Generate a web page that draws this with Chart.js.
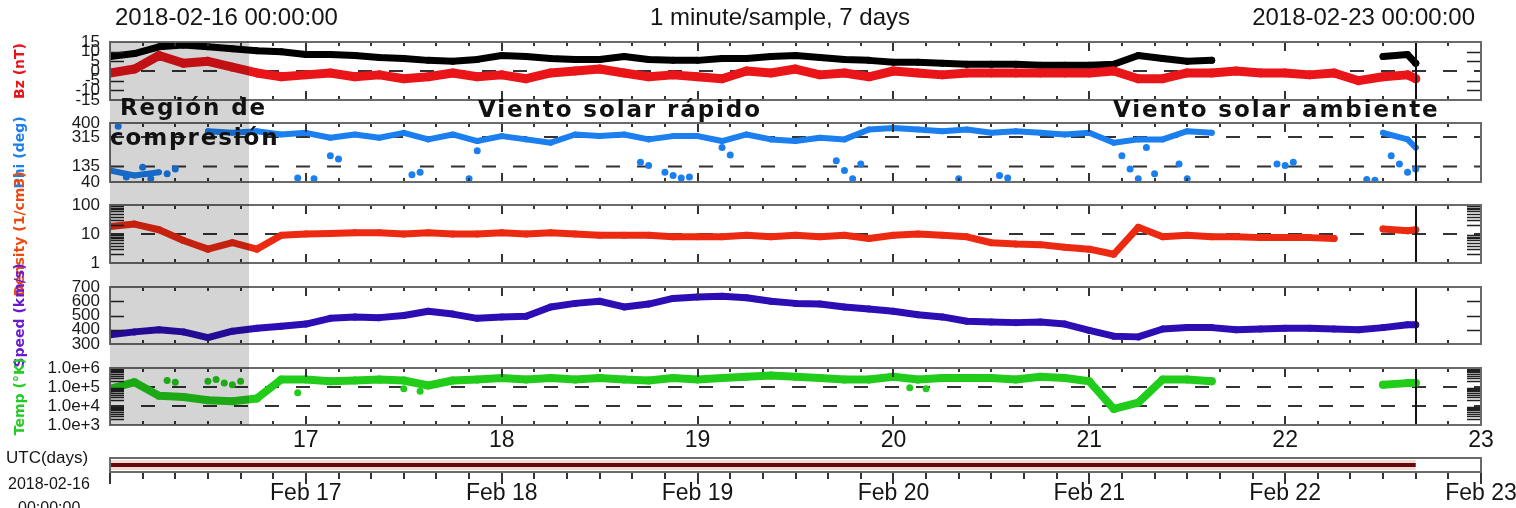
<!DOCTYPE html>
<html>
<head>
<meta charset="utf-8">
<script src="https://cdn.jsdelivr.net/npm/chart.js@4.4.1/dist/chart.umd.min.js"></script>
<style>
  body { margin: 0; background: #fff; }
  #stage { position: relative; width: 1516px; height: 508px; overflow: hidden; font-family: "Liberation Sans", Arial, sans-serif; }
  #stage canvas { position: absolute; left: 0; top: 0; }
  .t { position: absolute; white-space: nowrap; line-height: 1; color: #151515; z-index: 4; }
  .note { position: absolute; white-space: nowrap; line-height: 1; z-index: 5; color: #111;
          font-family: "DejaVu Sans", sans-serif; font-weight: bold; font-size: 23px; letter-spacing: 1.9px; }
</style>
</head>
<body>
<div id="stage">
  <div class="t" style="left:115px;top:5px;font-size:24px">2018-02-16 00:00:00</div>
  <div class="t" style="left:780px;top:5px;font-size:24px;transform:translateX(-50%)">1 minute/sample, 7 days</div>
  <div class="t" style="right:41px;top:5px;font-size:24px">2018-02-23 00:00:00</div>
  <div class="t" style="left:6px;top:449px;font-size:17px">UTC(days)</div>
  <div class="t" style="left:8px;top:476px;font-size:16px">2018-02-16</div>
  <div class="t" style="left:18px;top:500px;font-size:16px">00:00:00</div>
  <div class="note" style="left:120px;top:96px">Región de</div>
  <div class="note" style="left:110px;top:126px">compresión</div>
  <div class="note" style="left:478px;top:98px">Viento solar rápido</div>
  <div class="note" style="left:1113px;top:98px">Viento solar ambiente</div>
</div>
<script>
// hours after 2018-02-16 00:00 UTC
const hours = [0, 3, 6, 9, 12, 15, 18, 21, 24, 27, 30, 33, 36, 39, 42, 45, 48, 51, 54, 57,
  60, 63, 66, 69, 72, 75, 78, 81, 84, 87, 90, 93, 96, 99, 102, 105, 108, 111, 114, 117,
  120, 123, 126, 129, 132, 135, 138, 141, 144, 147, 150, 153, 156, 159, 160];

// magnetic field (nT)
const btValues = [7.5, 9, 12.5, 13.5, 12.5, 11.5, 10.5, 10, 8.5, 8.5, 8, 7, 6.5, 5.5, 5, 6, 8, 7.5, 6.5, 6,
  6, 7.5, 6, 5.5, 5.5, 6.5, 6.5, 7.5, 8, 7, 6, 5.5, 4.5, 4.5, 4, 3.5, 3.5, 3.5, 3, 3,
  3, 3.5, 8, 6.5, 5, 5.5, null, null, null, null, null, null, 7.5, 8.5, 4];
const bzValues = [-1, 1, 8, 4, 5, 2, -1, -3, -2, -1, -3, -2, -4, -3, -1, -3, -2, -4, -1, 0,
  1, -1, -3, -2, -3, -4, 0, -1, 1, -2, -1, -3, 0, -1, -2, -1, -1, -1, -1, -1,
  -1, 0, -4, -4, -1, -1, 0, -1, -1, -2, -1, -5, -3, -2, -4];
// field angle (deg): main band plus scattered low excursions
const phiValues = [110, 80, 100, null, 350, 340, 350, 330, 340, 310, 330, 310, 340, 300, 330, 290, 320, 300, 280, 330,
  320, 330, 300, 320, 320, 290, 330, 300, 290, 310, 300, 360, 370, 360, 350, 360, 340, 350, 340, 330,
  340, 280, 300, 300, 350, 340, null, null, null, null, null, null, 340, 300, 250];
const phiDipHours = [1, 2, 4, 5, 7, 8, 23, 25, 27, 28, 37, 38, 44, 45, 65, 66, 68, 69, 70, 71, 75, 76,
  89, 90, 91, 92, 104, 109, 110, 124, 125, 126, 127, 128, 131, 132, 143, 144, 145, 154, 155, 157, 158, 159, 160];
const phiDipValues = [380, 70, 130, 60, 90, 120, 65, 60, 200, 180, 85, 100, 60, 230, 160, 140, 100, 80, 65, 70, 250, 205,
  170, 110, 60, 150, 60, 80, 65, 200, 120, 60, 250, 90, 150, 60, 150, 140, 160, 55, 50, 200, 150, 100, 120];
// proton density (1/cm3)
const densityValues = [18, 22, 14, 6, 3, 5, 3, 9, 10, 10.5, 11, 11, 10, 11, 10, 10, 11, 10, 11, 10,
  9, 9, 9, 8, 8, 8, 9, 8, 9, 8, 9, 7, 9, 10, 9, 8, 5, 4.5, 4.3, 3.5,
  3, 2, 17, 8, 9, 8, 8, 7.5, 7.5, 7.5, 7, null, 15, 13, 14];
// bulk speed (km/s)
const speedValues = [365, 385, 400, 385, 345, 390, 410, 425, 440, 480, 490, 485, 500, 530, 510, 480, 490, 495, 560, 585,
  600, 560, 580, 620, 630, 635, 625, 600, 585, 580, 560, 545, 530, 505, 490, 460, 455, 450, 455, 440,
  395, 355, 350, 405, 415, 415, 400, 405, 410, 410, 405, 400, 415, 435, 435];
// ion temperature (K)
const tempValues = [8e4, 1.8e5, 3.5e4, 3e4, 2e4, 1.8e4, 2.5e4, 2.5e5, 2.5e5, 2e5, 2.2e5, 2.5e5, 2.2e5, 1.2e5, 2.2e5, 2.5e5, 3e5, 2.5e5, 3e5, 2.5e5,
  3e5, 2.5e5, 2.2e5, 3e5, 2.5e5, 3e5, 3.5e5, 4e5, 3.5e5, 3e5, 2.5e5, 2.5e5, 3.5e5, 2.5e5, 3e5, 3e5, 3e5, 2.5e5, 3.5e5, 3e5,
  2e5, 7e3, 1.5e4, 2.5e5, 2.5e5, 2e5, null, null, null, null, null, null, 1.3e5, 1.6e5, 1.6e5];
const tempDotHours = [7, 8, 12, 13, 14, 15, 16, 23, 36, 38, 98, 100];
const tempDotValues = [2.2e5, 1.8e5, 2e5, 2.5e5, 1.6e5, 1.3e5, 2e5, 5e4, 8e4, 6e4, 9e4, 8e4];

const bzTicks = [15, 10, 5, 0, -5, -10, -15];
const phiTicks = [400, 315, 135, 40];
const densityTicks = [100, 10, 1];
const speedTicks = [700, 600, 500, 400, 300];
const tempTicks = [1e6, 1e5, 1e4, 1e3];
const dayLabels = ['', '17', '18', '19', '20', '21', '22', '23'];
const dateLabels = ['', 'Feb 17', 'Feb 18', 'Feb 19', 'Feb 20', 'Feb 21', 'Feb 22', 'Feb 23'];

const compressionEnd = 0.71; // days
const dataEnd = 160 / 24;

const W = 1516, H = 508, RIGHT = 1481, AXIS_H = 40;
const boxes = [
  { top: 42, bottom: 100 },
  { top: 123, bottom: 182 },
  { top: 205, bottom: 263 },
  { top: 287, bottom: 344 },
  { top: 368, bottom: 425 }
];

function logMarks(lo, hi) {
  let out = [];
  for (let d = lo; d < hi; d *= 10) for (let m = 2; m <= 9; m++) out.push(m * d);
  return out;
}

const decor = {
  id: 'decor',
  afterDatasetsDraw(chart, args, o) {
    const ctx = chart.ctx, a = chart.chartArea;
    const x = chart.scales.x, y = chart.scales.y;
    ctx.save();
    if (o.yMarks) {
      ctx.strokeStyle = '#222';
      ctx.lineWidth = 1.5;
      o.yMarks.forEach(function(v) {
        const py = Math.round(y.getPixelForValue(v)) + 0.5;
        ctx.beginPath();
        ctx.moveTo(a.left, py); ctx.lineTo(a.left + 14, py);
        ctx.moveTo(a.right - 14, py); ctx.lineTo(a.right, py);
        ctx.stroke();
      });
    }
    ctx.strokeStyle = '#333';
    ctx.lineWidth = 2;
    for (let k = 0; k <= 42; k++) {
      const px = Math.round(x.getPixelForValue(k / 6));
      const len = k % 6 ? 4 : 9;
      ctx.beginPath();
      if (o.outward) {
        ctx.moveTo(px, a.bottom); ctx.lineTo(px, a.bottom + len + 3);
      } else {
        ctx.moveTo(px, a.top); ctx.lineTo(px, a.top + len);
        ctx.moveTo(px, a.bottom); ctx.lineTo(px, a.bottom - len);
      }
      ctx.stroke();
    }
    if (!o.outward) {
      const pe = Math.round(x.getPixelForValue(dataEnd));
      ctx.strokeStyle = '#111';
      ctx.beginPath(); ctx.moveTo(pe, a.top); ctx.lineTo(pe, a.bottom); ctx.stroke();
    }
    ctx.strokeStyle = '#6a6a6a';
    ctx.strokeRect(a.left, a.top, a.width, a.height);
    if (o.shade) {
      const x0 = x.getPixelForValue(0), x1 = x.getPixelForValue(compressionEnd);
      ctx.fillStyle = 'rgba(0,0,0,0.17)';
      ctx.fillRect(x0, boxes[0].top, x1 - x0, boxes[4].bottom - boxes[0].top);
    }
    ctx.restore();
  }
};

function makeCtx() {
  let c = document.createElement('canvas');
  c.width = W; c.height = H;
  c.style.width = W + 'px'; c.style.height = H + 'px';
  document.getElementById('stage').appendChild(c);
  return c.getContext('2d');
}

function pts(xs, vals) {
  return xs.map(function(h, i) { return { x: h / 24, y: vals[i] }; });
}

function series(vals, color, w, order) {
  return {
    data: pts(hours, vals), borderColor: color, backgroundColor: color, borderWidth: w,
    pointRadius: w / 2, pointBorderWidth: 0, pointBackgroundColor: color,
    tension: 0, spanGaps: false, borderJoinStyle: 'round', borderCapStyle: 'round', order: order || 0
  };
}

function dots(xs, vals, color) {
  return { data: pts(xs, vals), showLine: false, pointRadius: 3.5, pointBorderWidth: 0,
    pointBackgroundColor: color, order: 0 };
}

function dashLine(v) {
  return { data: [{ x: 0, y: v }, { x: 7, y: v }], borderColor: '#333', borderWidth: 2,
    borderDash: [14, 17], pointRadius: 0, order: 9 };
}

// bottom date axis with a fixed height so the plot box stays where it belongs
function dateAxis(labels, pad) {
  return {
    type: 'linear', min: 0, max: 7, position: 'bottom',
    afterFit: function(s) { s.height = AXIS_H; s.paddingLeft = 0; s.paddingRight = 0; },
    grid: { display: false, drawTicks: false }, border: { display: false },
    ticks: { stepSize: 1, autoSkip: false, maxRotation: 0, padding: pad, color: '#151515',
      font: { family: 'Liberation Sans', size: 23 },
      callback: function(v) { return labels[Math.round(v)]; } }
  };
}

const tickFont = { family: 'Liberation Sans', size: 17 };

function panel(box, cfg) {
  let xAxis = { type: 'linear', min: 0, max: 7, display: false };
  let padBottom = H - box.bottom;
  if (cfg.showDays) {
    xAxis = dateAxis(dayLabels, 2);
    padBottom -= AXIS_H;
  }
  return new Chart(makeCtx(), {
    type: 'line',
    data: { datasets: cfg.datasets },
    options: {
      responsive: false, animation: false, events: [],
      layout: { padding: { top: box.top, bottom: padBottom, left: 0, right: W - RIGHT } },
      plugins: { legend: { display: false }, tooltip: { enabled: false }, decor: { yMarks: cfg.marks } },
      scales: {
        x: xAxis,
        y: {
          type: cfg.log ? 'logarithmic' : 'linear', min: cfg.min, max: cfg.max,
          afterFit: function(s) { s.width = 110; },
          afterBuildTicks: function(s) { s.ticks = cfg.ticks.map(function(v) { return { value: v }; }); },
          grid: { display: false, drawTicks: false }, border: { display: false },
          ticks: { autoSkip: false, padding: 10, color: '#1a1a1a', font: tickFont, callback: cfg.fmt },
          title: { display: true, text: cfg.title, color: cfg.titleColor,
            font: { family: 'DejaVu Sans', weight: 'bold', size: 14 }, padding: { top: 12, bottom: 0 } }
        }
      }
    },
    plugins: [decor]
  });
}

const plain = function(v) { return String(v); };

panel(boxes[0], {
  min: -15, max: 15, ticks: bzTicks, fmt: plain, marks: [10, 5, -5, -10],
  title: 'Bz (nT)', titleColor: '#e8141a',
  datasets: [series(bzValues, '#ea1519', 9, 0), series(btValues, '#000000', 7, 1), dashLine(0)]
});
panel(boxes[1], {
  min: 40, max: 400, ticks: phiTicks, fmt: plain,
  title: 'Phi (deg)', titleColor: '#1e7fe8',
  datasets: [series(phiValues, '#1c7ff0', 6, 0), dots(phiDipHours, phiDipValues, '#1c7ff0'), dashLine(315), dashLine(135)]
});
panel(boxes[2], {
  log: true, min: 1, max: 100, ticks: densityTicks, fmt: plain, marks: logMarks(1, 100),
  title: 'Density (1/cm3)', titleColor: '#ee4a10',
  datasets: [series(densityValues, '#ec2a12', 7, 0), dashLine(10)]
});
panel(boxes[3], {
  min: 300, max: 700, ticks: speedTicks, fmt: plain, marks: [600, 500, 400],
  title: 'Speed (km/s)', titleColor: '#6a1ad0',
  datasets: [series(speedValues, '#2c0eb4', 7, 0)]
});
panel(boxes[4], {
  log: true, min: 1e3, max: 1e6, ticks: tempTicks, marks: logMarks(1e3, 1e6), showDays: true,
  fmt: function(v) { return Number(v).toExponential(1); },
  title: 'Temp (\u00b0K)', titleColor: '#22cc22',
  datasets: [series(tempValues, '#22cc1a', 8, 0), dots(tempDotHours, tempDotValues, '#22cc1a'), dashLine(1e5), dashLine(1e4)]
});

// time bar with date axis; it is the top canvas, so it also lays the compression-region shading over the panels
new Chart(makeCtx(), {
  type: 'line',
  data: { datasets: [
    { data: [{ x: 0, y: 0 }, { x: dataEnd, y: 0 }], borderColor: '#f1dcd4', borderWidth: 10, pointRadius: 0, order: 1 },
    { data: [{ x: 0, y: 0 }, { x: dataEnd, y: 0 }], borderColor: '#650b0b', borderWidth: 4, pointRadius: 0, order: 0 }
  ] },
  options: {
    responsive: false, animation: false, events: [],
    layout: { padding: { top: 458, bottom: H - 472 - AXIS_H, left: 110, right: W - RIGHT } },
    plugins: { legend: { display: false }, tooltip: { enabled: false }, decor: { outward: true, shade: true } },
    scales: {
      x: dateAxis(dateLabels, 8),
      y: { min: -1, max: 1, display: false }
    }
  },
  plugins: [decor]
});
</script>
</body>
</html>
